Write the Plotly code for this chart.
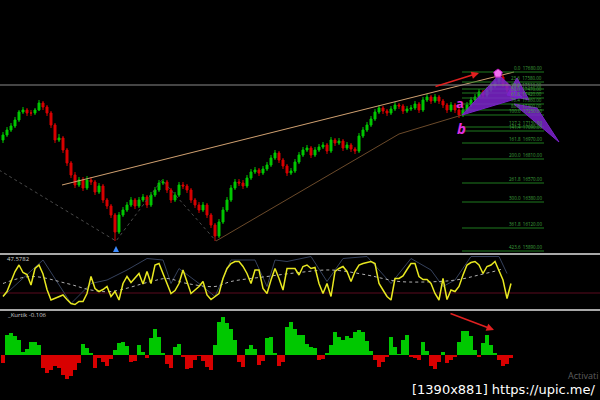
import plotly.graph_objects as go

# ---------------- price candles (index = bar number) ----------------
bars = list(range(129))
open_ = [17000,17050,17100,17140,17200,17280,17300,17270,17270,17300,
         17370,17330,17270,17150,17000,17020,16900,16770,16650,16550,
         16600,16520,16600,16580,16480,16540,16400,16340,16250,16080,
         16250,16300,16350,16400,16340,16400,16430,16350,16450,16500,
         16570,16580,16500,16400,16450,16550,16540,16500,16400,16350,
         16300,16350,16250,16150,16040,16180,16300,16400,16520,16580,
         16570,16540,16620,16680,16700,16670,16710,16750,16820,16870,
         16800,16740,16670,16690,16780,16850,16900,16920,16850,16900,
         16930,16950,16890,17000,16970,16990,16920,16950,16910,16890,
         17040,17100,17150,17210,17280,17320,17290,17270,17310,17350,
         17340,17290,17310,17320,17360,17300,17400,17430,17390,17430,
         17390,17350,17300,17350,17300,17250,17300,17350,17400,17430,
         17480,17450,17500,17540,17580,17630,17560,17500,17440]
close = [17050,17100,17140,17200,17280,17300,17270,17270,17300,17370,
         17330,17270,17150,17000,17020,16900,16770,16650,16550,16600,
         16520,16600,16580,16480,16540,16400,16340,16250,16080,16250,
         16300,16350,16400,16340,16400,16430,16350,16450,16500,16570,
         16580,16500,16400,16450,16550,16540,16500,16400,16350,16300,
         16350,16250,16150,16040,16180,16300,16400,16520,16580,16570,
         16540,16620,16680,16700,16670,16710,16750,16820,16870,16800,
         16740,16670,16690,16780,16850,16900,16920,16850,16900,16930,
         16950,16890,17000,16970,16990,16920,16950,16910,16890,17040,
         17100,17150,17210,17280,17320,17290,17270,17310,17350,17340,
         17290,17310,17320,17360,17300,17400,17430,17390,17430,17390,
         17350,17300,17350,17300,17250,17300,17350,17400,17430,17480,
         17450,17500,17540,17580,17630,17560,17500,17440,17500]
high = [17080,17130,17170,17230,17300,17330,17320,17300,17320,17400,
        17390,17350,17290,17170,17060,17040,16920,16790,16680,16630,
        16630,16640,16630,16600,16570,16560,16420,16360,16270,16280,
        16330,16380,16430,16420,16430,16460,16450,16480,16530,16600,
        16610,16600,16520,16480,16580,16580,16560,16520,16420,16380,
        16380,16370,16270,16170,16210,16330,16430,16550,16610,16610,
        16600,16650,16710,16730,16720,16740,16780,16850,16900,16890,
        16820,16760,16720,16810,16880,16930,16950,16940,16930,16960,
        16980,16970,17030,17020,17020,17010,16980,16970,16930,17070,
        17130,17180,17240,17310,17350,17340,17310,17340,17380,17370,
        17360,17340,17350,17390,17380,17430,17460,17450,17460,17450,
        17410,17370,17380,17370,17320,17330,17380,17430,17460,17510,
        17500,17530,17570,17610,17670,17650,17580,17520,17530]
low = [16970,17030,17080,17120,17180,17260,17240,17240,17250,17290,
       17300,17240,17120,16970,16980,16870,16740,16620,16520,16530,
       16490,16500,16550,16450,16460,16370,16310,16220,15990,16060,
       16230,16280,16330,16310,16320,16380,16320,16330,16430,16480,
       16550,16470,16370,16380,16430,16510,16470,16370,16320,16270,
       16280,16220,16120,15990,16020,16160,16280,16380,16500,16540,
       16510,16520,16600,16660,16640,16650,16690,16730,16800,16770,
       16710,16640,16650,16670,16760,16830,16880,16820,16830,16880,
       16910,16860,16870,16940,16950,16890,16900,16880,16860,16870,
       17020,17080,17130,17190,17260,17260,17240,17250,17290,17310,
       17260,17270,17290,17300,17270,17280,17380,17360,17370,17360,
       17320,17270,17280,17270,17220,17230,17280,17330,17380,17410,
       17420,17430,17480,17520,17560,17530,17470,17410,17420]

# ---------------- fibonacci levels ----------------
fib_names = ["0.0","23.6","38.2","50.0","61.8","76.4","88.6","100.0",
             "127.2","141.4","161.8","200.0","261.8","300.0","361.8","423.6"]
fib_prices = [17680,17580,17510,17470,17420,17360,17300,17250,
              17130,17090,16970,16810,16570,16380,16120,15890]
fib_x = [114.75, 135.25]

ref_level = 17550           # grey horizontal line
upper_tl_x = [14.75, 127.75]; upper_tl_y = [16550, 17680]
lower_tl_x = [53.25, 99.0, 114.75]; lower_tl_y = [15990, 17060, 17250]
zig_x = [-1.0, 28.25, 39.75, 53.25]; zig_y = [16700, 15990, 16600, 15990]

# harmonic pattern triangles
pat1_x = [114.75, 124.0, 129.75]; pat1_y = [17250, 17650, 17430]
pat2_x = [126.0, 128.5, 131.5];   pat2_y = [17450, 17620, 17400]
pat3_x = [127.75, 133.5, 139.0];  pat3_y = [17360, 17320, 16980]

# ---------------- oscillator panel ----------------
osc = [17,27,47,67,80,65,61,40,73,80,62,31,10,13,17,20,11,3,1,7,
       7,23,57,33,27,31,37,17,27,10,43,57,45,55,63,42,67,43,80,83,
       63,43,23,29,43,70,47,23,30,37,47,20,11,17,23,53,73,83,87,87,
       77,63,43,70,70,33,23,50,73,53,30,73,73,73,60,77,80,73,75,43,
       23,43,17,67,73,77,67,47,67,80,83,85,87,83,43,30,17,10,53,53,
       58,71,83,83,57,51,51,43,23,10,53,11,30,27,37,60,80,85,87,80,
       63,77,80,87,70,50,13,43]
sig_x = [0,10,17,22,26,31,36,40,42,44,49,53,57,63,66,68,71,77,81,85,91,97,102,107,110,113,117,124,126]
sig_v = [17,90,3,43,50,70,93,90,43,73,43,17,90,90,37,90,87,97,47,93,97,43,93,70,37,50,97,97,63]
ma_x = [0,7,16,22,27,37,41,46,53,57,66,74,82,91,95,99,109,114,119,124,125]
ma_v = [43,57,43,30,27,47,53,43,37,47,57,65,70,60,53,47,47,51,60,70,73]
osc_level = 24

# ---------------- histogram panel ----------------
hist = [-0.08,0.20,0.22,0.19,0.15,0.03,0.06,0.13,0.13,0.10,
        -0.13,-0.18,-0.15,-0.11,-0.13,-0.20,-0.24,-0.21,-0.15,-0.08,
        0.11,0.07,0.02,-0.13,-0.03,-0.07,-0.11,-0.04,0.05,0.12,
        0.13,0.09,-0.07,-0.06,0.10,0.03,-0.03,0.17,0.26,0.18,
        0.02,-0.09,-0.13,0.08,0.11,-0.02,-0.14,-0.13,-0.05,-0.01,
        -0.06,-0.12,-0.15,0.10,0.33,0.38,0.32,0.26,0.15,-0.07,
        -0.12,0.06,0.10,0.06,-0.10,-0.06,0.17,0.18,0.02,-0.11,
        -0.07,0.28,0.33,0.26,0.20,0.20,0.11,0.08,0.07,-0.05,
        -0.04,0.02,0.10,0.23,0.18,0.15,0.19,0.17,0.23,0.25,
        0.23,0.14,0.04,-0.05,-0.12,-0.07,-0.02,0.18,0.08,0.01,
        0.15,0.20,-0.02,-0.03,-0.05,0.13,0.04,-0.11,-0.14,-0.07,
        0.03,-0.08,-0.05,-0.02,0.13,0.24,0.24,0.19,0.05,-0.02,
        0.12,0.20,0.10,0.02,-0.05,-0.11,-0.09,-0.03]

GREEN = "#00c800"; RED = "#d80000"; XR = [-0.75, 149.25]

fig = go.Figure()

# zigzag + trend lines
fig.add_trace(go.Scatter(x=zig_x, y=zig_y, mode="lines",
                         line=dict(color="#4a4a4a", width=1, dash="dot"), xaxis="x", yaxis="y"))
fig.add_trace(go.Scatter(x=lower_tl_x, y=lower_tl_y, mode="lines",
                         line=dict(color="#6b4a2a", width=1), xaxis="x", yaxis="y"))
fig.add_trace(go.Scatter(x=upper_tl_x, y=upper_tl_y, mode="lines",
                         line=dict(color="#d0a070", width=1), xaxis="x", yaxis="y"))

# fib lines
for name, p in zip(fib_names, fib_prices):
    fig.add_trace(go.Scatter(x=fib_x, y=[p, p], mode="lines",
                             line=dict(color="#1f7a1f", width=1), xaxis="x", yaxis="y"))
    fig.add_annotation(x=fib_x[1], y=p, xref="x", yref="y", text=f"{name}  {p:.2f}",
                       showarrow=False, xanchor="right", yanchor="bottom",
                       font=dict(size=4.5, color="#3fa03f"), yshift=-1)

# harmonic pattern
for px, py in ((pat1_x, pat1_y), (pat2_x, pat2_y), (pat3_x, pat3_y)):
    fig.add_trace(go.Scatter(x=px + [px[0]], y=py + [py[0]], mode="lines", fill="toself",
                             fillcolor="rgba(125,35,205,0.85)", line=dict(color="#7a22cc", width=1),
                             xaxis="x", yaxis="y"))

# candles
fig.add_trace(go.Candlestick(x=bars, open=open_, high=high, low=low, close=close,
                             increasing=dict(line=dict(color=GREEN, width=1), fillcolor=GREEN),
                             decreasing=dict(line=dict(color=RED, width=1), fillcolor=RED),
                             xaxis="x", yaxis="y"))

# markers
fig.add_trace(go.Scatter(x=[28.25], y=[15940], mode="markers",
                         marker=dict(symbol="arrow-up", size=9, color="#3d8bff"), xaxis="x", yaxis="y"))
fig.add_trace(go.Scatter(x=[123.75], y=[17665], mode="markers",
                         marker=dict(symbol="pentagon", size=9, color="#f070f0",
                                     line=dict(color="#c020c0", width=1)), xaxis="x", yaxis="y"))
fig.add_annotation(x=114.2, y=17370, xref="x", yref="y", text="<b>a</b>", showarrow=False,
                   font=dict(size=13, color="#e030e0"))
fig.add_annotation(x=114.6, y=17120, xref="x", yref="y", text="<b><i>b</i></b>", showarrow=False,
                   font=dict(size=15, color="#e030e0"))
fig.add_annotation(x=119, y=17670, ax=107.75, ay=17530, xref="x", yref="y", axref="x", ayref="y",
                   showarrow=True, arrowhead=2, arrowsize=1, arrowwidth=1.5, arrowcolor="#e02020", text="")

# oscillator panel
fig.add_trace(go.Scatter(x=[-1, 150], y=[osc_level, osc_level], mode="lines",
                         line=dict(color="#5a0a1e", width=1), xaxis="x2", yaxis="y2"))
fig.add_trace(go.Scatter(x=sig_x, y=sig_v, mode="lines",
                         line=dict(color="#35415c", width=1), xaxis="x2", yaxis="y2"))
fig.add_trace(go.Scatter(x=ma_x, y=ma_v, mode="lines", line_shape="spline",
                         line=dict(color="#b0b0b0", width=1, dash="dot"), xaxis="x2", yaxis="y2"))
fig.add_trace(go.Scatter(x=bars[:len(osc)], y=osc, mode="lines",
                         line=dict(color="#e8e820", width=1.5), xaxis="x2", yaxis="y2"))

# histogram
fig.add_trace(go.Bar(x=bars[:len(hist)], y=hist, width=0.8,
                     marker=dict(color=[GREEN if v >= 0 else RED for v in hist], line=dict(width=0)),
                     xaxis="x3", yaxis="y3"))
fig.add_annotation(x=122.75, y=0.25, ax=111.5, ay=0.42, xref="x3", yref="y3", axref="x3", ayref="y3",
                   showarrow=True, arrowhead=2, arrowsize=1, arrowwidth=1.5, arrowcolor="#e02020", text="")

# panel labels & texts
fig.add_annotation(x=0.008, y=1 - 259 / 400, xref="paper", yref="paper", text="47.5782",
                   showarrow=False, xanchor="left", yanchor="middle", font=dict(size=6, color="#d0d0d0"))
fig.add_annotation(x=0.008, y=1 - 315 / 400, xref="paper", yref="paper", text="_Kurtik -0.106",
                   showarrow=False, xanchor="left", yanchor="middle", font=dict(size=6, color="#d0d0d0"))
fig.add_annotation(x=1.0, y=1 - 375 / 400, xref="paper", yref="paper", text="Activati",
                   showarrow=False, xanchor="right", yanchor="middle", font=dict(size=9, color="#5e5e5e"))
fig.add_annotation(x=0.997, y=1 - 389 / 400, xref="paper", yref="paper",
                   text="[1390x881] https://upic.me/", showarrow=False, xanchor="right", yanchor="middle",
                   font=dict(size=13, color="#ffffff", family="DejaVu Sans"))

shapes = [
    dict(type="line", xref="paper", yref="y", x0=0, x1=1, y0=ref_level, y1=ref_level,
         line=dict(color="#8a8a8a", width=1)),
    dict(type="line", xref="paper", yref="paper", x0=0, x1=1, y0=1 - 254 / 400, y1=1 - 254 / 400,
         line=dict(color="#a8a8a8", width=2)),
    dict(type="line", xref="paper", yref="paper", x0=0, x1=1, y0=1 - 310 / 400, y1=1 - 310 / 400,
         line=dict(color="#a8a8a8", width=2)),
]

ax_common = dict(visible=False, range=XR, showgrid=False, zeroline=False)
fig.update_layout(
    width=600, height=400, margin=dict(l=0, r=0, t=0, b=0),
    paper_bgcolor="#000000", plot_bgcolor="#000000", showlegend=False,
    bargap=0,
    xaxis=dict(**ax_common, domain=[0, 1], rangeslider=dict(visible=False), anchor="y"),
    xaxis2=dict(**ax_common, domain=[0, 1], anchor="y2"),
    xaxis3=dict(**ax_common, domain=[0, 1], anchor="y3"),
    yaxis=dict(visible=False, range=[15880, 18400], domain=[0.37, 1], showgrid=False, zeroline=False),
    yaxis2=dict(visible=False, range=[-6, 98], domain=[0.23, 0.36], showgrid=False, zeroline=False),
    yaxis3=dict(visible=False, range=[-0.45, 0.43], domain=[0, 0.22], showgrid=False, zeroline=False),
    shapes=shapes,
)

fig.write_html("out.html", config={"displayModeBar": False},
               post_script="document.body.style.margin='0';document.body.style.background='#000';")
